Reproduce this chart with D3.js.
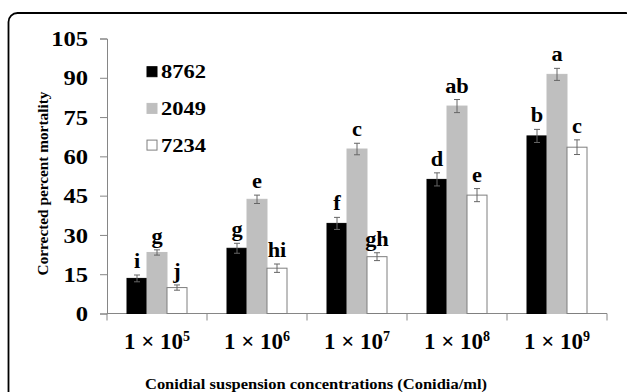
<!DOCTYPE html>
<html>
<head>
<meta charset="utf-8">
<script src="https://cdn.jsdelivr.net/npm/d3@7"></script>
<style>
  body { margin: 0; background: #fff; }
  svg text { font-family: "Liberation Serif", "Times New Roman", serif; font-weight: bold; fill: #000; }
</style>
</head>
<body>
<div id="chart"></div>
<script>
var width = 627;
var height = 392;

// data
var concExp = ["5", "6", "7", "8", "9"];
var strains = ["8762", "2049", "7234"];
var mortality8762 = [13.4, 24.9, 34.4, 51.2, 67.8];
var mortality2049 = [23.3, 43.6, 62.8, 79.2, 91.3];
var mortality7234 = [9.9, 17.3, 21.7, 45.2, 63.5];
var err8762 = [1.3, 1.9, 2.3, 2.5, 2.5];
var err2049 = [1.0, 1.6, 2.2, 2.5, 2.3];
var err7234 = [1.0, 1.6, 1.5, 2.5, 2.8];
var letters8762 = ["i", "g", "f", "d", "b"];
var letters2049 = ["g", "e", "c", "ab", "a"];
var letters7234 = ["j", "hi", "gh", "e", "c"];
var yTicks = [0, 15, 30, 45, 60, 75, 90, 105];

var colors = { "8762": "#000000", "2049": "#bfbfbf", "7234": "#ffffff" };
var strokes = { "8762": "#000000", "2049": "#bfbfbf", "7234": "#7f7f7f" };

var vals = { "8762": mortality8762, "2049": mortality2049, "7234": mortality7234 };
var errs = { "8762": err8762, "2049": err2049, "7234": err7234 };
var lets = { "8762": letters8762, "2049": letters2049, "7234": letters7234 };

var rows = [];
concExp.forEach(function (c, i) {
  strains.forEach(function (s) {
    rows.push({ conc: c, strain: s, value: vals[s][i], err: errs[s][i], letter: lets[s][i] });
  });
});

var svg = d3.select("#chart").append("svg")
  .attr("width", width)
  .attr("height", height);

// rounded frame (runs off the right and bottom edges)
svg.append("rect")
  .attr("x", 8.5).attr("y", 13)
  .attr("width", 626).attr("height", 420)
  .attr("rx", 9).attr("ry", 9)
  .attr("fill", "none")
  .attr("stroke", "#000")
  .attr("stroke-width", 1.8);

var xScale = d3.scaleBand().domain(concExp).range([107, 607]);
var xInner = d3.scaleBand().domain(strains).range([20, 80]);
var yScale = d3.scaleLinear().domain([0, 105]).range([313.5, 38.5]);

// y axis
var yAxis = d3.axisLeft(yScale).tickValues(yTicks).tickSize(7).tickPadding(0);
var gy = svg.append("g").attr("transform", "translate(107,0)").call(yAxis);
gy.select(".domain").attr("stroke", "#868686");
gy.selectAll(".tick line").attr("stroke", "#868686");
gy.selectAll(".tick text")
  .attr("x", 0)
  .attr("dy", "0.35em")
  .attr("transform", "translate(-19,0) scale(1.2,1)")
  .style("font-size", "20.5px");

// x axis line with ticks at category boundaries
var gx = svg.append("g");
gx.append("line")
  .attr("x1", xScale.range()[0]).attr("x2", xScale.range()[1])
  .attr("y1", yScale(0)).attr("y2", yScale(0))
  .attr("stroke", "#868686");
var edges = concExp.map(function (c) { return xScale(c); }).concat([xScale.range()[1]]);
gx.selectAll(".xt").data(edges).enter().append("line")
  .attr("x1", function (d) { return d; }).attr("x2", function (d) { return d; })
  .attr("y1", yScale(0)).attr("y2", yScale(0) + 7)
  .attr("stroke", "#868686");

var xl = gx.selectAll(".xl").data(concExp).enter().append("text")
  .attr("x", function (d) { return xScale(d) + xScale.bandwidth() / 2; })
  .attr("y", 349)
  .attr("text-anchor", "middle")
  .style("font-size", "23px");
xl.append("tspan").text("1 \u00d7 10");
xl.append("tspan").attr("dy", -8).style("font-size", "14px").text(function (d) { return d; });

// bars
svg.selectAll(".bar").data(rows).enter().append("rect")
  .attr("x", function (d) { return xScale(d.conc) + xInner(d.strain); })
  .attr("y", function (d) { return yScale(d.value); })
  .attr("width", xInner.bandwidth())
  .attr("height", function (d) { return yScale(0) - yScale(d.value); })
  .attr("fill", function (d) { return colors[d.strain]; })
  .attr("stroke", function (d) { return strokes[d.strain]; })
  .attr("stroke-width", 1);

// error bars
var eb = svg.selectAll(".err").data(rows).enter().append("g")
  .attr("stroke", "#666").attr("stroke-width", 1);
eb.append("line")
  .attr("x1", function (d) { return xScale(d.conc) + xInner(d.strain) + xInner.bandwidth() / 2; })
  .attr("x2", function (d) { return xScale(d.conc) + xInner(d.strain) + xInner.bandwidth() / 2; })
  .attr("y1", function (d) { return yScale(d.value + d.err); })
  .attr("y2", function (d) { return yScale(d.value - d.err); });
[1, -1].forEach(function (sgn) {
  eb.append("line")
    .attr("x1", function (d) { return xScale(d.conc) + xInner(d.strain) + xInner.bandwidth() / 2 - 3; })
    .attr("x2", function (d) { return xScale(d.conc) + xInner(d.strain) + xInner.bandwidth() / 2 + 3; })
    .attr("y1", function (d) { return yScale(d.value + sgn * d.err); })
    .attr("y2", function (d) { return yScale(d.value + sgn * d.err); });
});

// significance letters
svg.selectAll(".let").data(rows).enter().append("text")
  .attr("transform", function (d) {
    var cx = xScale(d.conc) + xInner(d.strain) + xInner.bandwidth() / 2;
    return "translate(" + cx + "," + (yScale(d.value + d.err) - 7) + ") scale(1.12,1)";
  })
  .attr("text-anchor", "middle")
  .style("font-size", "20px")
  .text(function (d) { return d.letter; });

// legend
var legend = svg.selectAll(".leg").data(strains).enter().append("g")
  .attr("transform", function (d, i) { return "translate(147," + (66.7 + i * 36.7) + ")"; });
legend.append("rect")
  .attr("width", 10).attr("height", 10)
  .attr("fill", function (d) { return colors[d]; })
  .attr("stroke", function (d) { return strokes[d]; });
legend.append("text")
  .attr("transform", "translate(14,11.5) scale(1.25,1)")
  .style("font-size", "18px")
  .text(function (d) { return d; });

// axis titles
svg.append("text")
  .attr("transform", "translate(48,183.5) rotate(-90)")
  .attr("text-anchor", "middle")
  .style("font-size", "15.3px")
  .text("Corrected percent mortality");

svg.append("text")
  .attr("transform", "translate(316,389) scale(1.1,1)")
  .attr("text-anchor", "middle")
  .style("font-size", "15px")
  .text("Conidial suspension concentrations (Conidia/ml)");
</script>
</body>
</html>
